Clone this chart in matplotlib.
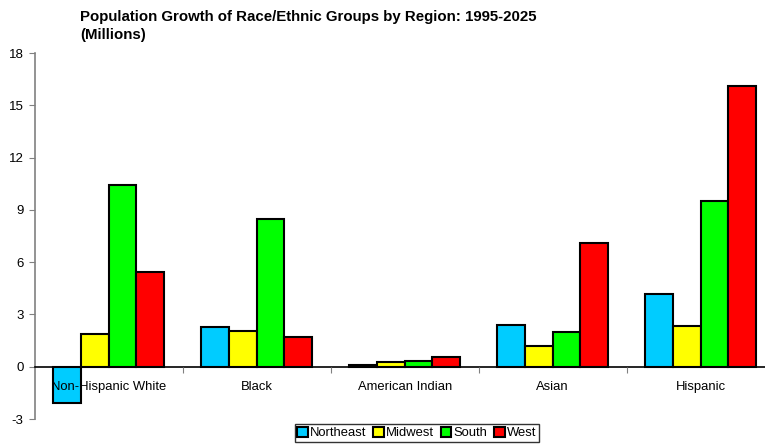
import numpy as np
import matplotlib.pyplot as plt
from matplotlib.patches import Patch

plt.rcParams['font.family'] = ['Liberation Sans', 'DejaVu Sans']
plt.rcParams['axes.unicode_minus'] = False

groups = ["Non-Hispanic White", "Black", "American Indian", "Asian", "Hispanic"]
regions = ["Northeast", "Midwest", "South", "West"]
northeast = [-2.1, 2.3, 0.1, 2.4, 4.2]
midwest = [1.9, 2.05, 0.25, 1.2, 2.35]
south = [10.4, 8.5, 0.33, 2.0, 9.5]
west = [5.45, 1.7, 0.55, 7.1, 16.1]
colours = ["#00CCFF", "#FFFF00", "#00FF00", "#FF0000"]

fig = plt.figure(figsize=(7.65, 4.45), dpi=100)
ax = fig.add_axes([34.7 / 765, 26 / 445, 740 / 765, 366 / 445])

x = np.arange(len(groups))
w = 0.187
for i, (vals, c) in enumerate(zip([northeast, midwest, south, west], colours)):
    ax.bar(x + (i - 1.5) * w, vals, w, color=c, edgecolor="black", linewidth=1.5, zorder=3)

ax.set_xlim(-0.5, 4.5)
ax.set_ylim(-3, 18)
ax.set_yticks(range(-3, 19, 3))
ax.tick_params(axis="y", direction="out", length=4, color="#808080", labelsize=9.5, pad=4)

# category axis sits on zero, separator ticks between groups
ax.spines["bottom"].set_position(("data", 0))
ax.spines["bottom"].set_color("black")
ax.spines["bottom"].set_linewidth(1.2)
ax.spines["bottom"].set_zorder(4)
ax.spines["left"].set_color("#808080")
ax.spines["left"].set_linewidth(1.2)
ax.spines["top"].set_visible(False)
ax.spines["right"].set_visible(False)
ax.set_xticks(np.arange(0.5, 4.5, 1))
ax.set_xticklabels([])
ax.tick_params(axis="x", which="major", direction="out", length=4, color="#808080")
ax.set_xticks(x, minor=True)
ax.set_xticklabels(groups, minor=True)
ax.tick_params(axis="x", which="minor", length=0, labelsize=9.4, pad=10)
ax.xaxis.set_zorder(5)

fig.text(80 / 765, 1 - 10 / 445, "Population Growth of Race/Ethnic Groups by Region: 1995-2025\n(Millions)",
         fontsize=10.8, fontweight="bold", va="top", ha="left", linespacing=1.4)

handles = [Patch(facecolor=c, edgecolor="black", linewidth=1.5) for c in colours]
leg = fig.legend(handles, regions, loc="lower center", bbox_to_anchor=(417 / 765, 0.0),
                 ncol=4, fontsize=9.4, frameon=True, fancybox=False, edgecolor="black",
                 handlelength=0.8, handleheight=0.8, handletextpad=0.2, columnspacing=0.5,
                 borderpad=0.2, borderaxespad=0.25)
leg.get_frame().set_linewidth(1.0)

fig.savefig("out.png", dpi=100)
